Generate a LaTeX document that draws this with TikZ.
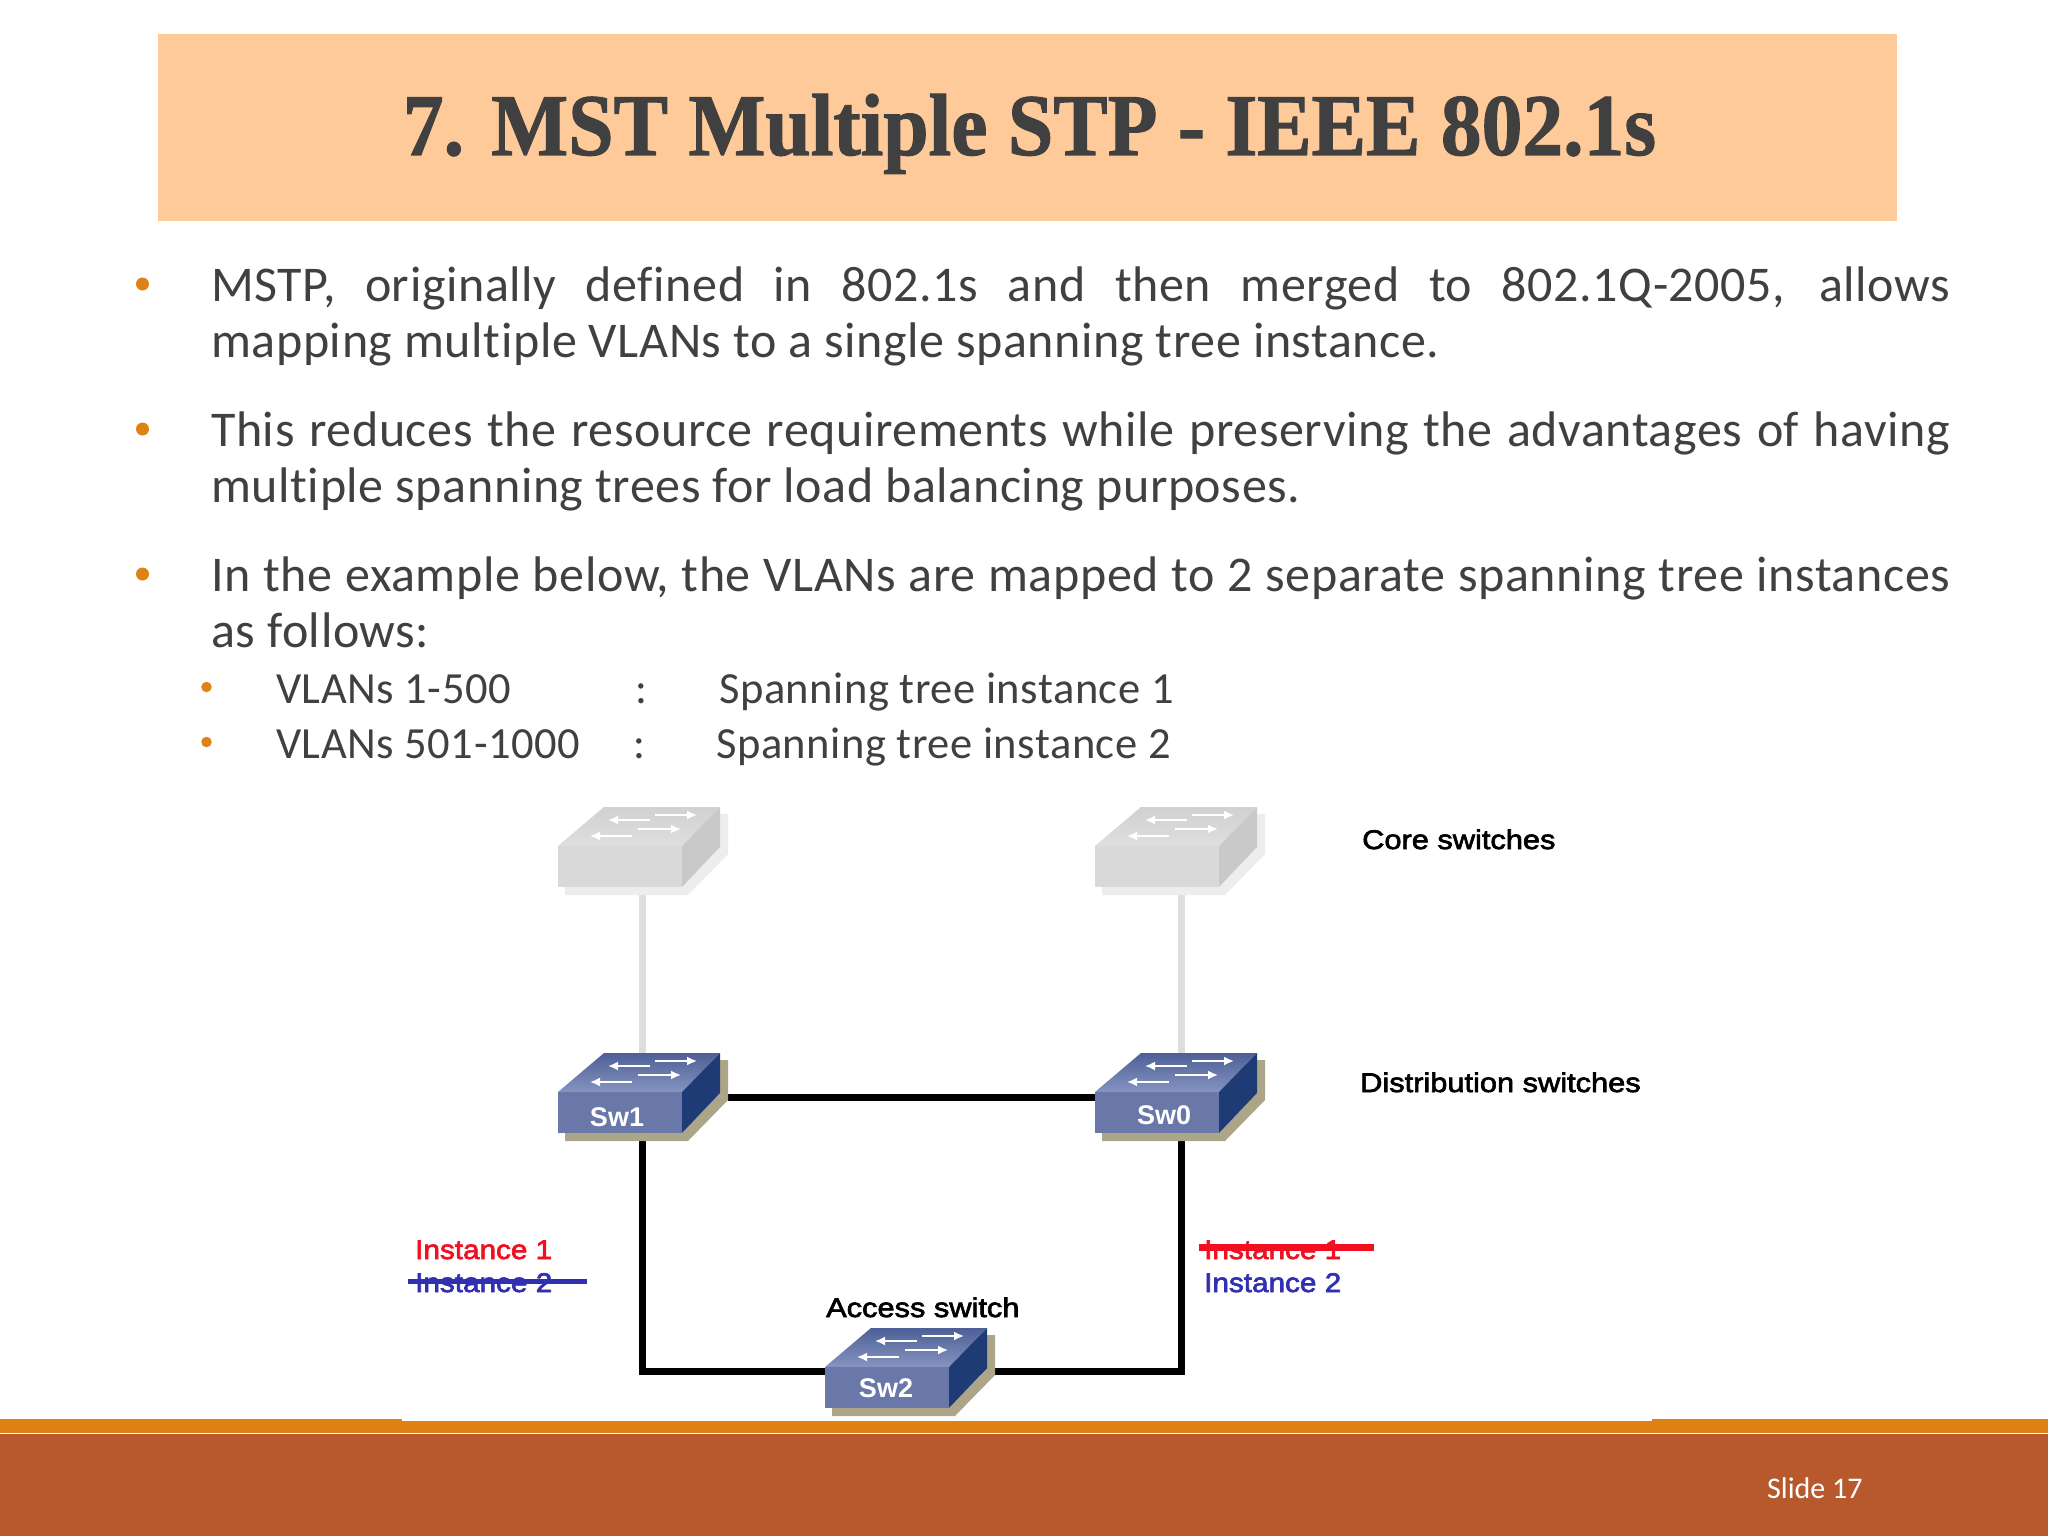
\documentclass[tikz,border=0pt]{standalone}
\usepackage{fontspec}
\setmainfont[LetterSpace=1.2,Ligatures=NoCommon]{Carlito}
\newfontfamily\plainfont{Carlito}
\newfontfamily\titlefont[FakeStretch=0.927,FakeBold=1.2]{Liberation Serif}
\newfontfamily\figfont{Liberation Sans}
\newfontfamily\labelfont[FakeStretch=1.14,FakeBold=2.5]{Liberation Sans}
\newfontfamily\instfont[FakeStretch=1.1,FakeBold=2.5]{Liberation Sans}
\usetikzlibrary{arrows.meta}
\definecolor{bandpeach}{HTML}{FFCA99}
\definecolor{orangebar}{HTML}{E08116}
\definecolor{brownbar}{HTML}{B8592D}
\definecolor{bodytext}{HTML}{404040}
\definecolor{bulletc}{HTML}{E08116}
\definecolor{instred}{HTML}{F01020}
\definecolor{instblue}{HTML}{3030B0}
\definecolor{linkgrey}{HTML}{DEDEE0}
\definecolor{frontb}{HTML}{6A77A9}
\definecolor{toplt}{HTML}{8594BF}
\definecolor{topdk}{HTML}{4D5F97}
\definecolor{sideb}{HTML}{1F3B76}
\definecolor{shadowtan}{HTML}{ACA588}
\newcommand{\fsz}[1]{\fontsize{#1}{#1}\selectfont}
\newcommand{\switchicon}[6]{%
 % #1 name, #2 origin, #3 front, #4 top-light, #5 top-dark, #6 side
 \begin{scope}[shift={#2}]
  \coordinate (#1) at (0,0);
  \fill[swshadow] (7,41) -- (7,49) -- (130,49) -- (170,8) -- (170,-32) -- (162,-32) -- (162,1) -- (124,41) -- cycle;
  \shade[bottom color=#4, top color=#5] (0,0) -- (46,-39) -- (162,-39) -- (124,0) -- cycle;
  \fill[#3] (0,0) rectangle (124,41);
  \fill[#6] (124,0) -- (162,-39) -- (162,1) -- (124,41) -- cycle;
  \draw[swarrow] (92,-26) -- (50,-26);
  \draw[swarrow] (97,-31) -- (139,-31);
  \draw[swarrow] (74,-10) -- (32,-10);
  \draw[swarrow] (80,-17) -- (123,-17);
 \end{scope}}
\tikzset{
 x=1pt,y=-1pt,
 swarrow/.style={draw=white,line width=1.8pt,-{Latex[length=10pt,width=9pt]}},
 swlabel/.style={text=white,font=\figfont\bfseries\fsz{27},inner sep=0pt},
 figlabel/.style={font=\labelfont\fsz{27},text=black,anchor=base west,inner sep=0pt},
 instlabel/.style={font=\instfont\fsz{27},anchor=base west,inner sep=0pt},
 bodyline/.style={font=\fsz{50},text=bodytext,anchor=base west,inner sep=0pt},
 subline/.style={font=\fsz{44.5},text=bodytext,anchor=base west,inner sep=0pt},
 bulletbig/.style={circle,fill=bulletc,inner sep=0pt,minimum size=13pt},
 bulletsmall/.style={circle,fill=bulletc,inner sep=0pt,minimum size=10.5pt},
 greylink/.style={draw=linkgrey,line width=7pt},
 blacklink/.style={draw=black,line width=7pt,line join=miter},
 strikeblue/.style={draw=instblue,line width=5pt},
 strikered/.style={draw=instred,line width=7pt},
 coreswitch/.style={swshadow/.style={fill=black!7}},
 distswitch/.style={swshadow/.style={fill=shadowtan}},
}
\begin{document}
\begin{tikzpicture}
\useasboundingbox (0,0) rectangle (2048,1536);
\fill[white] (0,0) rectangle (2048,1536);
% title band
\fill[bandpeach] (158,34) rectangle (1897,221);
\node[font=\titlefont\bfseries\fsz{88},text=bodytext,anchor=base,inner sep=0pt] (title) at (1029.5,155) {7. MST Multiple STP - IEEE 802.1s};
% bottom bands
\fill[orangebar] (0,1419) rectangle (2048,1433);
\fill[white] (402,1419) rectangle (1652,1420.5);
\fill[brownbar] (0,1434) rectangle (2048,1536);
\node[font=\plainfont\fsz{30},text=white,anchor=base west,inner sep=0pt] (slidenum) at (1767,1498) {Slide 17};
% body
\node[bulletbig] (b1) at (142.5,284) {};
\node[bodyline] (l1) at (211,301) {\makebox[1739pt][s]{MSTP, originally defined in 802.1s and then merged to 802.1Q-2005, allows}};
\node[bodyline] (l2) at (211,357) {mapping multiple VLANs to a single spanning tree instance.};
\node[bulletbig] (b2) at (142.5,429) {};
\node[bodyline] (l3) at (211,446) {\makebox[1739pt][s]{This reduces the resource requirements while preserving the advantages of having}};
\node[bodyline] (l4) at (211,502) {multiple spanning trees for load balancing purposes.};
\node[bulletbig] (b3) at (142.5,574) {};
\node[bodyline] (l5) at (211,591) {\makebox[1739pt][s]{In the example below, the VLANs are mapped to 2 separate spanning tree instances}};
\node[bodyline] (l6) at (211,647) {as follows:};
\node[bulletsmall] (b4) at (206.5,687) {};
\node[subline] (s1a) at (276,703) {VLANs 1-500};
\node[subline] (s1b) at (635,703) {:};
\node[subline] (s1c) at (719,703) {Spanning tree instance 1};
\node[bulletsmall] (b5) at (206.5,742) {};
\node[subline] (s2a) at (276,758) {VLANs 501-1000};
\node[subline] (s2b) at (633,758) {:};
\node[subline] (s2c) at (716,758) {Spanning tree instance 2};
% ports
\coordinate (c1b) at (642,893);
\coordinate (c0b) at (1181,893);
\coordinate (s1t) at (642,1054);
\coordinate (s0t) at (1181,1054);
\coordinate (s1r) at (728,1097);
\coordinate (s0l) at (1095,1097);
\coordinate (s1bt) at (642,1141);
\coordinate (s0bt) at (1181,1141);
\coordinate (s2l) at (825,1371);
\coordinate (s2r) at (950,1371);
% links
\draw[greylink] (c1b) -- (s1t);
\draw[greylink] (c0b) -- (s0t);
\draw[blacklink] (s1r) -- (s0l);
\draw[blacklink] (s1bt) |- (s2l);
\draw[blacklink] (s0bt) |- (s2r);
% switches
\begin{scope}[coreswitch]
\switchicon{core1}{(558,846)}{black!15}{black!13}{black!18}{black!21}
\switchicon{core0}{(1095,846)}{black!15}{black!13}{black!18}{black!21}
\end{scope}
\begin{scope}[distswitch]
\switchicon{sw1i}{(558,1092)}{frontb}{toplt}{topdk}{sideb}
\switchicon{sw0i}{(1095,1092)}{frontb}{toplt}{topdk}{sideb}
\switchicon{sw2i}{(825,1367)}{frontb}{toplt}{topdk}{sideb}
\end{scope}
\node[swlabel] (sw1) at (617,1117) {Sw1};
\node[swlabel] (sw0) at (1164,1115) {Sw0};
\node[swlabel] (sw2) at (886,1388) {Sw2};
% figure labels
\node[figlabel] (core) at (1362,849) {Core switches};
\node[figlabel] (dist) at (1360,1092) {Distribution switches};
\node[figlabel] (acc) at (826,1317) {Access switch};
\node[instlabel,text=instred] (i1l) at (415,1259) {Instance 1};
\node[instlabel,text=instblue] (i2l) at (415,1292) {Instance 2};
\node[instlabel,text=instred] (i1r) at (1204,1259) {Instance 1};
\node[instlabel,text=instblue] (i2r) at (1204,1292) {Instance 2};
\coordinate (strbA) at (408,1281);
\coordinate (strbB) at (587,1281);
\coordinate (strrA) at (1199,1247);
\coordinate (strrB) at (1374,1247);
\draw[strikeblue] (strbA) -- (strbB);
\draw[strikered] (strrA) -- (strrB);
\end{tikzpicture}
\end{document}
